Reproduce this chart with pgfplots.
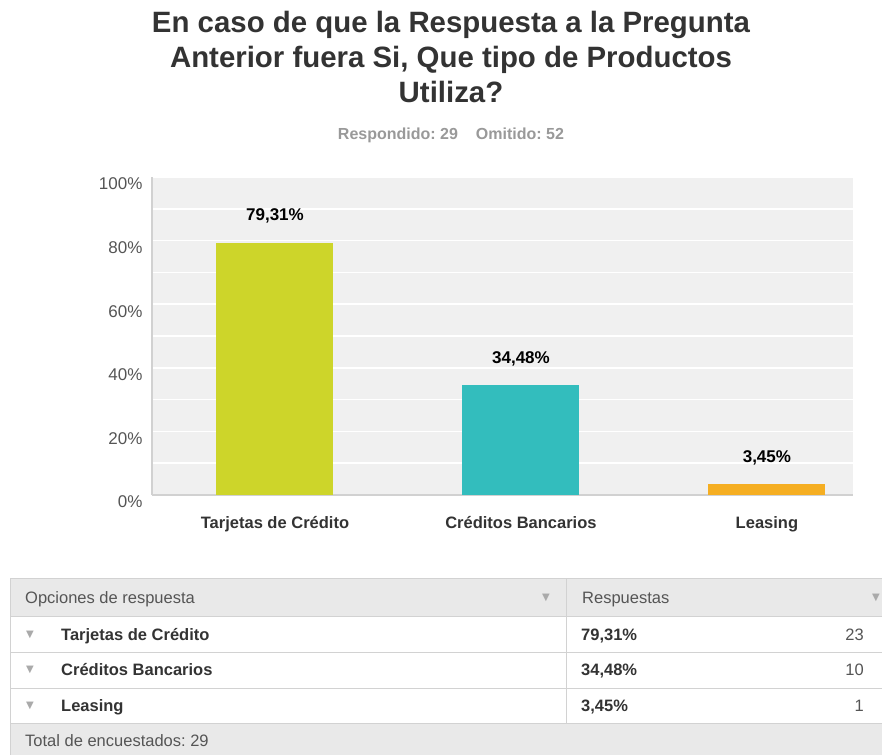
\documentclass[border=0pt]{standalone}
\usepackage{fontspec}
\setmainfont{Liberation Sans}
\newfontfamily\dejavu{DejaVu Sans}
\usepackage{pgfplots}
\pgfplotsset{compat=1.18}
\frenchspacing
\definecolor{bgc}{HTML}{F0F0F0}
\definecolor{c1}{HTML}{CDD52A}
\definecolor{c2}{HTML}{33BDBD}
\definecolor{c3}{HTML}{F5AE22}
\definecolor{titlec}{HTML}{333333}
\definecolor{subc}{HTML}{999999}
\definecolor{tickc}{HTML}{555555}
\definecolor{hdrbg}{HTML}{E9E9E9}
\definecolor{linec}{HTML}{D2D2D2}
\definecolor{tric}{HTML}{AAAAAA}
\begin{document}
\begin{tikzpicture}
\path[use as bounding box, fill=white] (0pt,0pt) rectangle (882pt,-755pt);
% title
\node[font=\bfseries\fontsize{29.4}{35}\selectfont, text=titlec, align=center] at (451pt,-57pt)
  {En caso de que la Respuesta a la Pregunta\\Anterior fuera Si, Que tipo de Productos\\Utiliza?};
\node[font=\bfseries\fontsize{16}{16}\selectfont, text=subc] at (451pt,-135pt)
  {Respondido: 29\hspace{18pt}Omitido: 52};
\begin{axis}[
  at={(152pt,-495pt)}, anchor=south west,
  scale only axis, width=701pt, height=318pt,
  xmin=-0.5, xmax=2.35, ymin=0, ymax=100,
  axis background/.style={fill=bgc},
  axis x line*=bottom, axis y line*=left,
  axis line style={draw=black!18, line width=1.5pt, -},
  /pgf/number format/assume math mode=true,
  ybar, bar width=117pt,
  xtick={0,1,2},
  xticklabels={Tarjetas de Crédito, Créditos Bancarios, Leasing},
  xticklabel style={font=\bfseries\fontsize{16.5}{16.5}\selectfont, text=titlec, anchor=base, yshift=-33pt},
  ytick={0,20,...,100},
  minor ytick={10,30,...,90},
  yticklabel={\pgfmathprintnumber{\tick}\%},
  yticklabel style={font=\fontsize{17}{17}\selectfont, text=tickc, yshift=-7pt, xshift=-6pt},
  major tick length=0pt, minor tick length=0pt,
  ymajorgrids, yminorgrids,
  major grid style={white, line width=1.5pt},
  minor grid style={white, line width=1.5pt},
  clip=false,
  nodes near coords={\pgfmathprintnumber[fixed,fixed zerofill,precision=2,use comma]{\pgfplotspointmeta}\%},
  every node near coord/.append style={anchor=base, yshift=22pt, font=\bfseries\fontsize{17}{17}\selectfont, text=black},
]
\addplot[fill=c1, draw=none, bar shift=0pt] coordinates {(0,79.31)};
\addplot[fill=c2, draw=none, bar shift=0pt] coordinates {(1,34.48)};
\addplot[fill=c3, draw=none, bar shift=0pt] coordinates {(2,3.45)};
\end{axis}
% table
\fill[hdrbg] (10pt,-578pt) rectangle (882pt,-616pt);
\fill[hdrbg] (10pt,-723pt) rectangle (882pt,-755pt);
\draw[linec] (10pt,-578pt) -- (882pt,-578pt);
\foreach \yy in {616,652,688,723} \draw[linec] (10pt,-\yy pt) -- (882pt,-\yy pt);
\draw[linec] (10pt,-578pt) -- (10pt,-755pt);
\draw[linec] (566pt,-578pt) -- (566pt,-723pt);
\tikzset{tb/.style={font=\fontsize{16.5}{16.5}\selectfont, text=tickc, anchor=base west, inner sep=0pt},
         tbb/.style={font=\bfseries\fontsize{16.5}{16.5}\selectfont, text=titlec, anchor=base west, inner sep=0pt},
         tri/.style={font=\dejavu\fontsize{10}{10}\selectfont, text=tric}}
\node[tb] at (25pt,-603pt) {Opciones de respuesta};
\node[tb] at (582pt,-603pt) {Respuestas};
\node[tri] at (546pt,-598pt) {▼};
\node[tri] at (876pt,-598pt) {▼};
\foreach \yy/\lab/\pct/\n in {634/{Tarjetas de Crédito}/{79,31\%}/23, 669/{Créditos Bancarios}/{34,48\%}/10, 705/{Leasing}/{3,45\%}/1} {
  \node[tri] at (30pt,-\yy pt-1pt) {▼};
  \node[tbb] at (61pt,-\yy pt-6pt) {\lab};
  \node[tbb] at (581pt,-\yy pt-6pt) {\pct};
  \node[tb, anchor=base east] at (864pt,-\yy pt-6pt) {\n};
}
\node[tb] at (25pt,-746pt) {Total de encuestados: 29};
\end{tikzpicture}
\end{document}
